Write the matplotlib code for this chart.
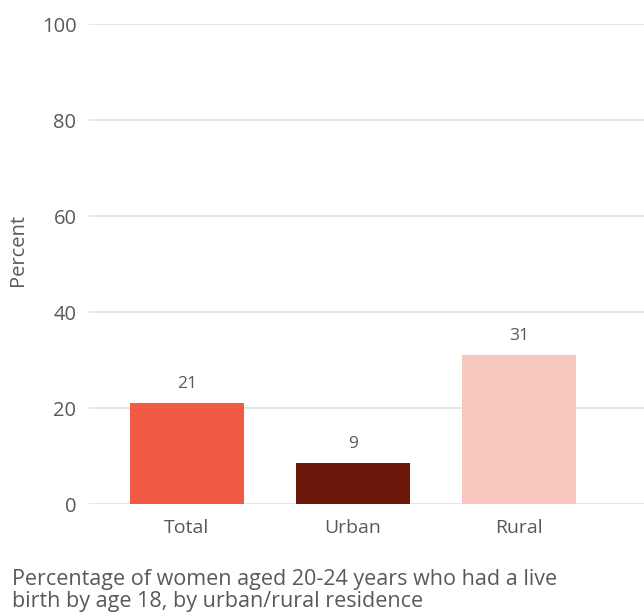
import matplotlib
matplotlib.use('Agg')
import matplotlib.pyplot as plt

# Data
categories = ['Total', 'Urban', 'Rural']
values = [21.0, 8.5, 31.1]
labels = ['21', '9', '31']
colors = ['#F15B43', '#6B1709', '#F7C6BD']
yticks = [0, 20, 40, 60, 80, 100]

plt.rcParams['font.family'] = ['Open Sans', 'DejaVu Sans']
text_color = '#595959'

fig = plt.figure(figsize=(6.44, 6.15), dpi=100)
ax = fig.add_axes([89 / 644, 111 / 615, 1 - 89 / 644, 480 / 615])

x = range(len(categories))
bars = ax.bar(x, values, width=0.687, color=colors, zorder=3)

for b, lab in zip(bars, labels):
    ax.annotate(lab, (b.get_x() + b.get_width() / 2, b.get_height()),
                xytext=(0, 8), textcoords='offset points',
                ha='center', va='bottom', fontsize=12.5, color=text_color)

ax.set_ylim(0, 100)
ax.set_xlim(-0.59, 2.753)
ax.set_yticks(yticks)
ax.set_yticklabels([str(t) for t in yticks], fontsize=14.5, color=text_color)
ax.set_xticks(list(x))
ax.set_xticklabels(categories, fontsize=14, color=text_color)
ax.tick_params(axis='y', length=0, pad=9)
ax.tick_params(axis='x', length=0, pad=11)
ax.grid(axis='y', color='#E3E3E3', linewidth=1.2, zorder=0)
ax.set_axisbelow(True)
for s in ax.spines.values():
    s.set_visible(False)

ylab = ax.set_ylabel('Percent', fontsize=14.5, color=text_color)
ylab.set_va('center')
ax.yaxis.set_label_coords(-0.128, 0.53)

fig.text(12 / 644, 1 - 569 / 615,
         'Percentage of women aged 20-24 years who had a live\nbirth by age 18, by urban/rural residence',
         ha='left', va='top', fontsize=15.5, color=text_color, linespacing=1.05)

fig.savefig('out.png', dpi=100)
